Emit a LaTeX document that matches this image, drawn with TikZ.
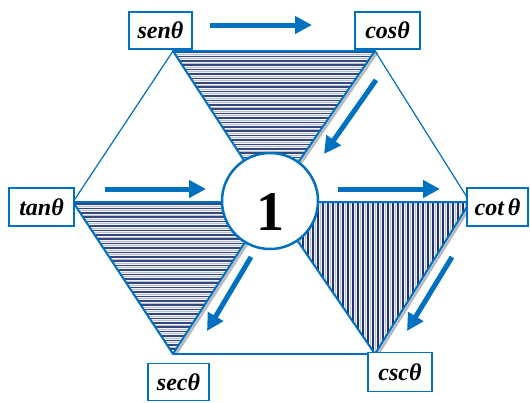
\documentclass[tikz,border=0pt]{standalone}
\usepackage{fontspec}
\setmainfont{Liberation Serif}
\usetikzlibrary{arrows.meta,calc}
\definecolor{obl}{RGB}{0,112,192}
\definecolor{hnavy}{RGB}{52,72,125}
\definecolor{vnavy}{RGB}{32,50,112}
\definecolor{stripebg}{RGB}{240,242,247}
\definecolor{midgray}{RGB}{185,192,205}
\tikzset{
 lbl/.style={draw=obl,line width=1.5pt,fill=white,inner sep=0pt,font=\fontsize{24}{24}\selectfont\bfseries\itshape},
 bigarrow/.style={obl,line width=5pt,-{Triangle[length=17pt,width=17pt]}},
 hexline/.style={obl,line width=1.2pt},
 triline/.style={obl,line width=2pt,line join=round},
 shadowline/.style={gray!55,line width=2.5pt},
 hstripe/.style={hnavy,line width=1.5pt},
 vstripe/.style={vnavy,line width=2pt},
 thinstripe/.style={midgray,line width=0.8pt},
}
\begin{document}
\begin{tikzpicture}[x=1pt,y=-1pt]
\useasboundingbox (0,0) rectangle (530,402);
\coordinate (TL) at (173,51);
\coordinate (TR) at (375,51);
\coordinate (L) at (73,202);
\coordinate (R) at (470,202);
\coordinate (BL) at (173,354);
\coordinate (BR) at (375,354);
\coordinate (C) at (271,202);
% shadows
\draw[shadowline] ($(TR)+(2.5,1)$) -- ($(C)+(2.5,1)$);
\draw[shadowline] ($(C)+(2.5,1)$) -- ($(BL)+(2.5,1)$);
\draw[shadowline] ($(R)+(2.5,1)$) -- ($(BR)+(2.5,1)$);
% top triangle stripes
\begin{scope}
\clip (TL) -- (TR) -- (C) -- cycle;
\fill[stripebg] (150,45) rectangle (400,210);
\foreach \y in {52,56.4,...,204} {
  \draw[hstripe] (150,\y) -- (400,\y);
  \draw[thinstripe] (150,\y+2.2) -- (400,\y+2.2);
}
\end{scope}
% left triangle stripes
\begin{scope}
\clip (L) -- (C) -- (BL) -- cycle;
\fill[stripebg] (60,195) rectangle (290,360);
\foreach \y in {204,208.4,...,356} {
  \draw[hstripe] (60,\y) -- (290,\y);
  \draw[thinstripe] (60,\y+2.2) -- (290,\y+2.2);
}
\end{scope}
% right triangle vertical stripes
\begin{scope}
\clip (C) -- (R) -- (BR) -- cycle;
\fill[stripebg] (265,195) rectangle (480,360);
\foreach \x in {273,278,...,473} {
  \draw[vstripe] (\x,195) -- (\x,360);
  \draw[thinstripe] (\x+2.5,195) -- (\x+2.5,360);
}
\end{scope}
% hexagon edges
\draw[hexline] (TL) -- (L);
\draw[hexline] (TR) -- (R);
\draw[hexline] (BL) -- (BR);
% triangles
\draw[triline] (TL) -- (TR) -- (C) -- cycle;
\draw[triline] (L) -- (C) -- (BL) -- cycle;
\draw[triline] (C) -- (R) -- (BR) -- cycle;
% circle
\node[circle,draw=obl,line width=2.5pt,fill=white,minimum size=96pt,inner sep=0pt] (one) at (270,201) {};
\node[font=\fontsize{56}{56}\selectfont\bfseries,inner sep=0pt] (onetxt) at (270,212) {1};
% labels
\node[lbl,minimum width=63pt,minimum height=37pt] (sen) at (160.5,30.5) {senθ};
\node[lbl,minimum width=65pt,minimum height=37pt] (cos) at (387.5,30.5) {cosθ};
\node[lbl,minimum width=65pt,minimum height=38pt] (tan) at (41.5,207) {tanθ};
\node[lbl,minimum width=61pt,minimum height=38pt] (cot) at (497.5,207) {cot\,θ};
\node[lbl,minimum width=61pt,minimum height=37pt] (sec) at (178.5,382) {secθ};
\node[lbl,minimum width=64pt,minimum height=39pt] (csc) at (400,372) {cscθ};
% arrows
\coordinate (a1s) at (210,25); \coordinate (a1e) at (312,25);
\coordinate (a2s) at (105,189); \coordinate (a2e) at (206,189);
\coordinate (a3s) at (338,189); \coordinate (a3e) at (440,189);
\coordinate (a4s) at (376,80); \coordinate (a4e) at (324,154);
\coordinate (a5s) at (251,257); \coordinate (a5e) at (207,331);
\coordinate (a6s) at (452,257); \coordinate (a6e) at (407,331);
\draw[bigarrow] (a1s) -- (a1e);
\draw[bigarrow] (a2s) -- (a2e);
\draw[bigarrow] (a3s) -- (a3e);
\draw[bigarrow] (a4s) -- (a4e);
\draw[bigarrow] (a5s) -- (a5e);
\draw[bigarrow] (a6s) -- (a6e);
\end{tikzpicture}
\end{document}
